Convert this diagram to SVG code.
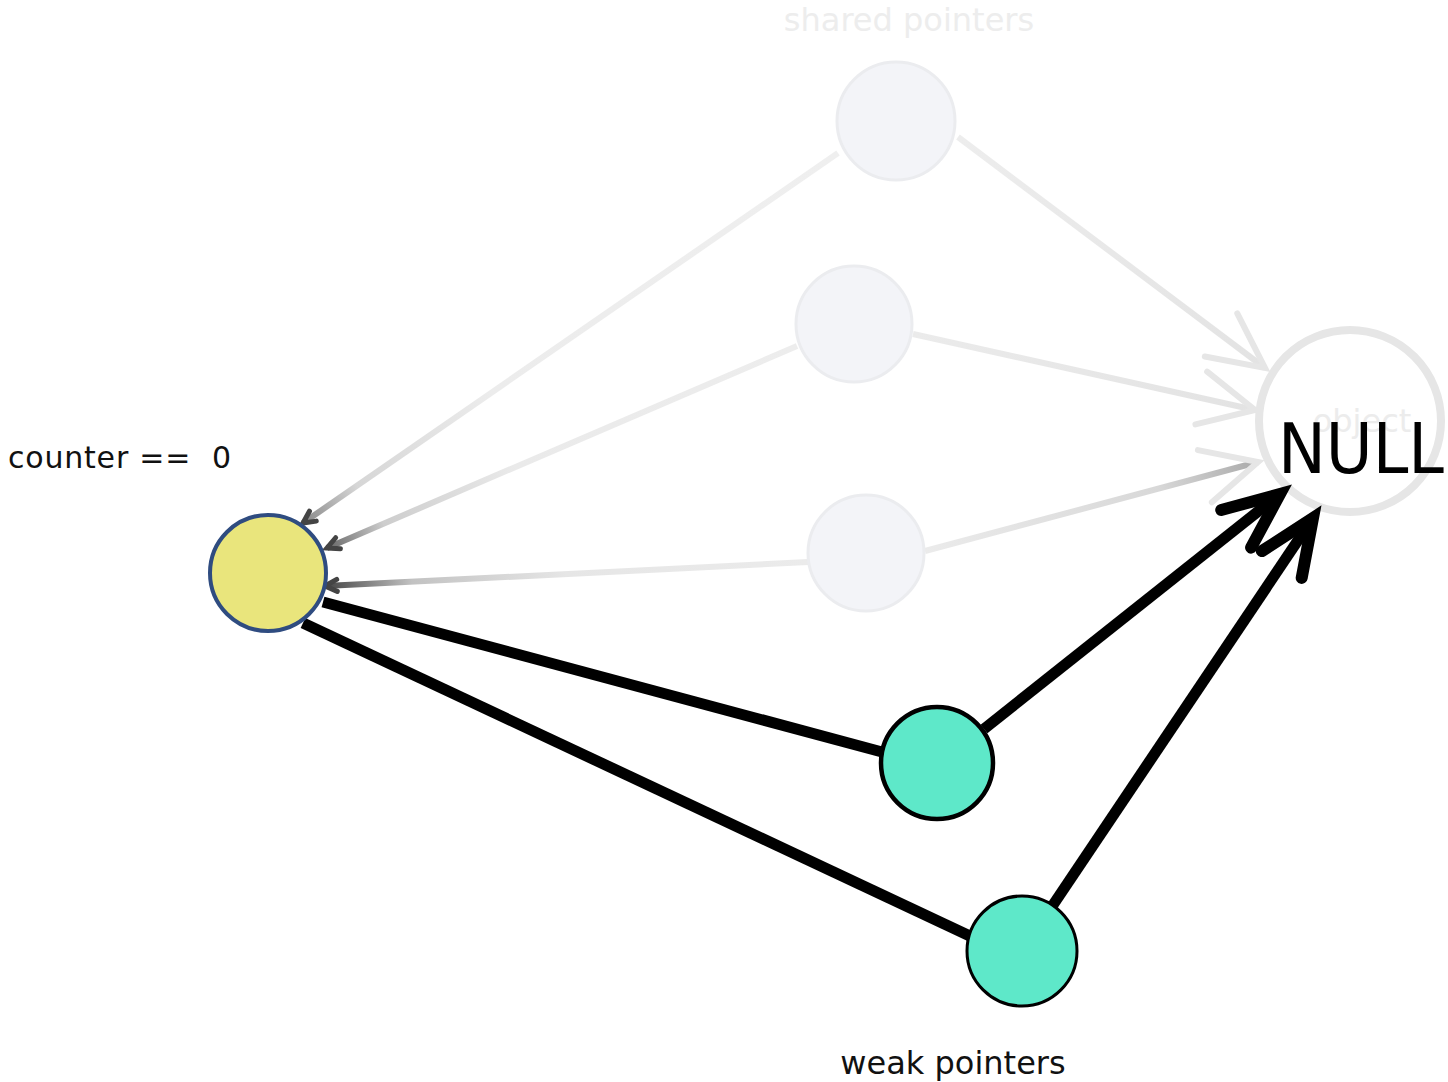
<svg xmlns="http://www.w3.org/2000/svg" width="1448" height="1082" viewBox="0 0 1448 1082">
<style>
.lbl{font-family:"DejaVu Sans","Liberation Sans",sans-serif;white-space:pre}
.gnode{fill:#f3f4f8;stroke:#ebecef;stroke-width:3}
.wnode{fill:#5ee8c9;stroke:#000}
.blk{stroke:#000;stroke-width:11;fill:none}
.gry{stroke-width:6;fill:none}
</style>
<defs>
<marker id="ahBlack" markerUnits="userSpaceOnUse" markerWidth="80" markerHeight="80" viewBox="-70 -40 80 80" refX="0" refY="0" orient="auto" overflow="visible">
<path d="M-56,-24 L0,0 L-56,24" fill="none" stroke="#000" stroke-width="12" stroke-linecap="round" stroke-linejoin="miter"/>
</marker>
<marker id="ahGrayNull" markerUnits="userSpaceOnUse" markerWidth="80" markerHeight="80" viewBox="-70 -40 80 80" refX="0" refY="0" orient="auto" overflow="visible">
<path d="M-55,-27 L0,0 L-55,27" fill="none" stroke="#e6e6e6" stroke-width="6" stroke-linecap="round"/>
</marker>
<marker id="ahGrayYel" markerUnits="userSpaceOnUse" markerWidth="40" markerHeight="40" viewBox="-30 -20 40 40" refX="0" refY="0" orient="auto" overflow="visible">
<path d="M-12,-6 L0,0 L-12,6" fill="none" stroke="#444" stroke-width="5" stroke-linecap="round"/>
</marker>
<linearGradient id="g1" gradientUnits="userSpaceOnUse" x1="303" y1="523" x2="838" y2="153"><stop offset="0" stop-color="#888"/><stop offset="0.1" stop-color="#d6d6d6"/><stop offset="0.35" stop-color="#ececec"/><stop offset="1" stop-color="#efefef"/></linearGradient>
<linearGradient id="g2" gradientUnits="userSpaceOnUse" x1="327" y1="548" x2="797" y2="346"><stop offset="0" stop-color="#666"/><stop offset="0.12" stop-color="#cdcdcd"/><stop offset="0.4" stop-color="#eaeaea"/><stop offset="1" stop-color="#ededed"/></linearGradient>
<linearGradient id="g3" gradientUnits="userSpaceOnUse" x1="325" y1="586" x2="808" y2="562"><stop offset="0" stop-color="#444"/><stop offset="0.18" stop-color="#c2c2c2"/><stop offset="0.5" stop-color="#e6e6e6"/><stop offset="1" stop-color="#ebebeb"/></linearGradient>
<linearGradient id="g4" gradientUnits="userSpaceOnUse" x1="958" y1="137" x2="1265" y2="368"><stop offset="0" stop-color="#ededed"/><stop offset="1" stop-color="#e3e3e3"/></linearGradient>
<linearGradient id="g5" gradientUnits="userSpaceOnUse" x1="913" y1="334" x2="1255" y2="410"><stop offset="0" stop-color="#ebebeb"/><stop offset="1" stop-color="#e3e3e3"/></linearGradient>
<linearGradient id="g6" gradientUnits="userSpaceOnUse" x1="925" y1="551" x2="1258" y2="462"><stop offset="0" stop-color="#ebebeb"/><stop offset="0.7" stop-color="#d8d8d8"/><stop offset="1" stop-color="#aaa"/></linearGradient>
</defs>
<rect x="0" y="0" width="1448" height="1082" fill="#fff"/>

<g id="label-shared">
<text class="lbl" x="909" y="31" font-size="32" fill="#ededed" text-anchor="middle">shared pointers</text>
</g>
<g id="label-counter">
<text class="lbl" x="8" y="468" font-size="30" fill="#111" textLength="223">counter ==  0</text>
</g>
<g id="label-weak">
<text class="lbl" x="953" y="1074" font-size="32" fill="#111" text-anchor="middle">weak pointers</text>
</g>

<g id="node-object">
<circle cx="1350" cy="421" r="91" fill="#fff" stroke="#e6e6e6" stroke-width="8"/>
<text class="lbl" x="1362" y="432" font-size="32" fill="#ececec" text-anchor="middle">object</text>
<text class="lbl" x="1278" y="473" font-size="70" fill="#000" textLength="166" lengthAdjust="spacingAndGlyphs">NULL</text>
</g>

<g id="connectors">
<line class="gry" x1="838" y1="153" x2="303" y2="523" stroke="url(#g1)" marker-end="url(#ahGrayYel)"/>
<line class="gry" x1="797" y1="346" x2="327" y2="548" stroke="url(#g2)" marker-end="url(#ahGrayYel)"/>
<line class="gry" x1="808" y1="562" x2="325" y2="586" stroke="url(#g3)" marker-end="url(#ahGrayYel)"/>
<line class="gry" x1="958" y1="137" x2="1265" y2="368" stroke="url(#g4)" marker-end="url(#ahGrayNull)"/>
<line class="gry" x1="913" y1="334" x2="1255" y2="410" stroke="url(#g5)" marker-end="url(#ahGrayNull)"/>
<line class="gry" x1="925" y1="551" x2="1258" y2="462" stroke="url(#g6)" marker-end="url(#ahGrayNull)"/>
<line class="blk" x1="323" y1="602" x2="882" y2="752"/>
<line class="blk" x1="303" y1="623" x2="972" y2="937"/>
<line class="blk" x1="984" y1="729" x2="1280" y2="494" marker-end="url(#ahBlack)"/>
<line class="blk" x1="1053" y1="905" x2="1313" y2="518" marker-end="url(#ahBlack)"/>
</g>

<g id="node-shared1"><circle class="gnode" cx="896" cy="121" r="59"/></g>
<g id="node-shared2"><circle class="gnode" cx="854" cy="324" r="58"/></g>
<g id="node-shared3"><circle class="gnode" cx="866" cy="553" r="58"/></g>
<g id="node-counter"><circle cx="268" cy="573" r="58" fill="#e9e57c" stroke="#2f4c80" stroke-width="4"/></g>
<g id="node-weak1"><circle class="wnode" cx="937" cy="763" r="56" stroke-width="4.5"/></g>
<g id="node-weak2"><circle class="wnode" cx="1022" cy="951" r="55" stroke-width="3"/></g>
</svg>
